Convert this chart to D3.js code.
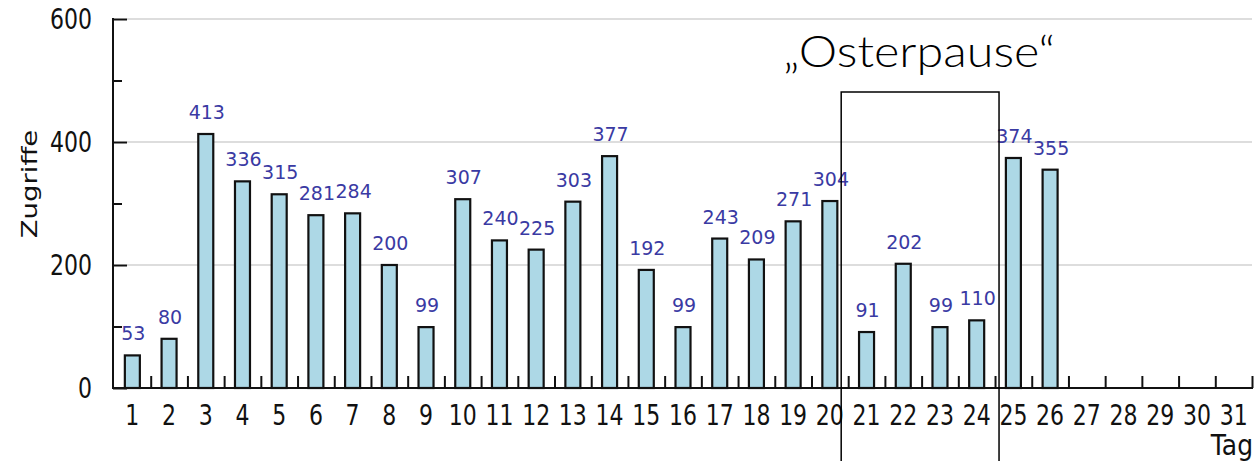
<!DOCTYPE html>
<html>
<head>
<meta charset="utf-8">
<script src="https://cdn.jsdelivr.net/npm/d3@7"></script>
<style>
  html, body { margin: 0; padding: 0; background: #fff; }
  svg { display: block; }
</style>
</head>
<body>
<svg id="chart" width="1258" height="461"></svg>
<script>
// ---- data ----
const days = d3.range(1, 32);
const hits = [53, 80, 413, 336, 315, 281, 284, 200, 99, 307, 240, 225, 303, 377, 192, 99, 243, 209, 271, 304, 91, 202, 99, 110, 374, 355, null, null, null, null, null];
const yMajorTicks = [0, 200, 400, 600];
const yMinorTicks = [100, 300, 500];
const yTitle = "Zugriffe";
const xTitle = "Tag";
const annotationText = "\u201EOsterpause\u201C";
const annotationDays = [21, 24];

// ---- layout ----
const svg = d3.select("#chart");
const mLeft = 114, mRight = 1252, mTop = 19, mBottom = 388;
const font = "'DejaVu Sans', Verdana, sans-serif";
const stretch = 1.25;

const x = d3.scaleBand().domain(days).range([mLeft, mRight]).padding(0);
const xl = d3.scaleLinear().domain([0, 31]).range([mLeft, mRight]);
const y = d3.scaleLinear().domain([0, 600]).range([mBottom, mTop]);

// gridlines
svg.append("g").selectAll("line").data(yMajorTicks.filter(d => d > 0)).join("line")
  .attr("x1", mLeft + 13).attr("x2", mRight)
  .attr("y1", d => y(d)).attr("y2", d => y(d))
  .attr("stroke", "#dddddd").attr("stroke-width", 2);

// bars
const bw = 15;
const data = days.map((d, i) => ({ day: d, v: hits[i] })).filter(d => d.v != null);
svg.append("g").selectAll("rect").data(data).join("rect")
  .attr("x", d => x(d.day) + x.bandwidth() / 2 - bw / 2)
  .attr("width", bw)
  .attr("y", d => y(d.v))
  .attr("height", d => y(0) - y(d.v))
  .attr("fill", "#add8e6")
  .attr("stroke", "#111")
  .attr("stroke-width", 2.2);

// value labels
svg.append("g").selectAll("text").data(data).join("text")
  .attr("x", d => x(d.day) + x.bandwidth() / 2 + 1)
  .attr("y", d => y(d.v) - 15)
  .attr("text-anchor", "middle")
  .attr("font-family", font)
  .attr("font-size", 19)
  .attr("fill", "#3a3aa3")
  .text(d => d.v);

// x boundary ticks
const xTickAxis = d3.axisBottom(xl).tickValues(d3.range(1, 32)).tickSize(-12).tickFormat("");
const gxt = svg.append("g").attr("transform", `translate(0,${mBottom})`).call(xTickAxis);
gxt.select(".domain").remove();
gxt.selectAll("line").attr("stroke", "#111").attr("stroke-width", 2);

// x labels
const xLabelAxis = d3.axisBottom(x).tickSize(0);
const gxl = svg.append("g").attr("transform", `translate(0,${mBottom})`).call(xLabelAxis);
gxl.select(".domain").remove();
gxl.selectAll("text")
  .attr("font-family", font).attr("font-size", 22).attr("fill", "#111")
  .attr("y", 29.5).attr("dy", 0)
  .attr("transform", `scale(1,${stretch})`);

// y axis: minor ticks
const gym = svg.append("g").attr("transform", `translate(${mLeft - 1},0)`)
  .call(d3.axisLeft(y).tickValues(yMinorTicks).tickSize(-9).tickFormat(""));
gym.select(".domain").remove();
gym.selectAll("line").attr("stroke", "#111").attr("stroke-width", 2);

// y axis: major ticks + labels
const gy = svg.append("g").attr("transform", `translate(${mLeft - 1},0)`)
  .call(d3.axisLeft(y).tickValues(yMajorTicks).tickSize(-14).tickPadding(21));
gy.select(".domain").remove();
gy.selectAll("line").attr("stroke", "#111").attr("stroke-width", 2);
gy.selectAll("text")
  .attr("font-family", font).attr("font-size", 22).attr("fill", "#111")
  .attr("dy", "0.36em")
  .attr("transform", `scale(1,${stretch})`);

// axis lines
svg.append("line").attr("x1", mLeft - 1).attr("x2", mLeft - 1).attr("y1", mTop - 1).attr("y2", mBottom + 1)
  .attr("stroke", "#111").attr("stroke-width", 2);
svg.append("line").attr("x1", mLeft - 2).attr("x2", mRight + 1).attr("y1", mBottom).attr("y2", mBottom)
  .attr("stroke", "#111").attr("stroke-width", 2);

// y title
svg.append("text")
  .attr("transform", `translate(37,184) rotate(-90) scale(${stretch},1)`)
  .attr("text-anchor", "middle")
  .attr("font-family", font).attr("font-size", 22).attr("fill", "#111")
  .text(yTitle);

// x title
svg.append("text")
  .attr("transform", `translate(${mRight + 1},455) scale(1,1.1)`)
  .attr("text-anchor", "end")
  .attr("font-family", font).attr("font-size", 25).attr("fill", "#111")
  .text(xTitle);

// annotation box
const bx0 = xl(annotationDays[0] - 1) - 7, bx1 = xl(annotationDays[1]) + 4;
svg.append("rect")
  .attr("x", bx0).attr("y", 92)
  .attr("width", bx1 - bx0).attr("height", 400)
  .attr("fill", "none").attr("stroke", "#000").attr("stroke-width", 1.5);

svg.append("text")
  .attr("x", 919).attr("y", 67)
  .attr("text-anchor", "middle")
  .attr("font-family", "Lato, 'Open Sans', sans-serif")
  .attr("font-weight", 300)
  .attr("font-size", 43)
  .attr("textLength", 272)
  .attr("lengthAdjust", "spacingAndGlyphs")
  .attr("fill", "#000")
  .text(annotationText);
</script>
</body>
</html>
